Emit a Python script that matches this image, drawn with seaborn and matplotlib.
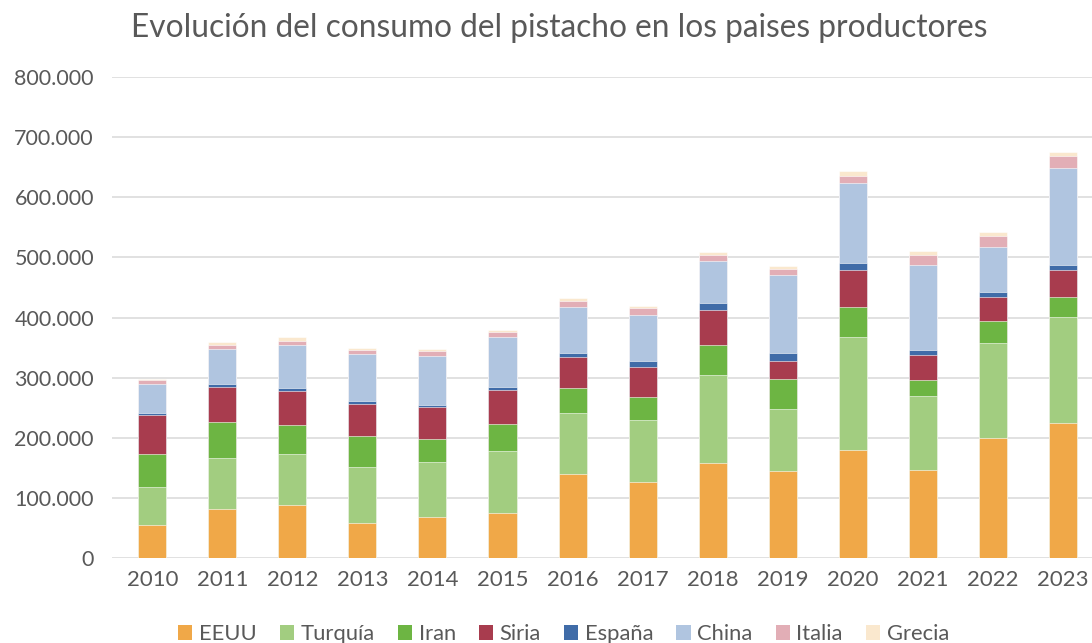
import numpy as np
import pandas as pd
import matplotlib
matplotlib.use("Agg")
import matplotlib.pyplot as plt
import seaborn as sns
from matplotlib.patches import Patch
from matplotlib.ticker import FuncFormatter

# consumo de pistacho por país (toneladas)
years = ["2010", "2011", "2012", "2013", "2014", "2015", "2016",
         "2017", "2018", "2019", "2020", "2021", "2022", "2023"]
eeuu = [54400, 81000, 87600, 57700, 67700, 74300, 139200,
        126900, 157500, 144500, 179100, 146400, 199100, 224500]
turquia = [63200, 85900, 85900, 93700, 92500, 104200, 102500,
           103100, 146900, 103300, 188500, 123600, 159000, 176300]
iran = [55400, 58700, 47200, 51000, 37200, 43900, 40500,
        37200, 49600, 50200, 49300, 26600, 36100, 33800]
siria = [64800, 59400, 57100, 53700, 53200, 56500, 52100,
         50000, 58500, 29100, 61600, 40500, 39900, 43900]
espana = [3900, 5000, 5500, 5500, 4400, 5000, 6200,
          10700, 12100, 14400, 12700, 8900, 8300, 9300]
china = [47200, 58000, 71000, 77200, 81000, 83100, 77000,
         76300, 69400, 129700, 132000, 141300, 75400, 160300]
italia = [7100, 6800, 7200, 7700, 8800, 9400, 10500,
          11600, 10500, 10000, 12700, 17200, 18300, 21000]
grecia = [2300, 3900, 5500, 2300, 2800, 2800, 4000,
          3800, 3900, 5000, 7200, 6600, 6700, 6700]

paises = ["EEUU", "Turquía", "Iran", "Siria", "España", "China", "Italia", "Grecia"]
series = [eeuu, turquia, iran, siria, espana, china, italia, grecia]
colores = ["#F0A848", "#A2CD80", "#6DB543", "#A83C4E",
           "#406CA8", "#B0C5E0", "#E2AEB6", "#FAE8CE"]

gris = "#595959"

sns.set_style("white")
plt.rcParams["font.family"] = ["Lato", "DejaVu Sans"]

fig = plt.figure(figsize=(10.92, 6.43), dpi=100)
ax = fig.add_axes([0.1026, 0.1322, 0.8974, 0.748])

# barras apiladas: se dibujan los acumulados de arriba hacia abajo
acumulado = np.cumsum(np.array(series), axis=0)
for i in range(len(paises) - 1, -1, -1):
    df = pd.DataFrame({"año": years, "valor": acumulado[i]})
    sns.barplot(data=df, x="año", y="valor", color=colores[i], width=0.4,
                saturation=1, edgecolor="white", linewidth=0.4, ax=ax, zorder=3)

ax.set_ylim(0, 800000)
ax.set_xlim(-0.575, 13.417)
ax.set_yticks(np.arange(0, 800001, 100000))
ax.yaxis.set_major_formatter(FuncFormatter(lambda v, p: f"{int(v):,}".replace(",", ".")))
ax.grid(axis="y", color="#D9D9D9", linewidth=1.1, zorder=0)
ax.grid(axis="x", visible=False)
for s in ax.spines.values():
    s.set_visible(False)
ax.set_xlabel("")
ax.set_ylabel("")
ax.tick_params(axis="y", length=0, pad=13, labelsize=15.5, labelcolor=gris)
ax.tick_params(axis="x", length=0, pad=9, labelsize=16, labelcolor=gris)

fig.text(0.512, 0.957, "Evolución del consumo del pistacho en los paises productores",
         ha="center", va="center", fontsize=22.8, color=gris)

handles = [Patch(facecolor=c, edgecolor="none", label=p) for p, c in zip(paises, colores)]
fig.legend(handles=handles, loc="center", bbox_to_anchor=(0.516, 0.014), ncol=8,
           frameon=False, fontsize=15.8, labelcolor=gris, handlelength=0.65,
           handleheight=0.65, handletextpad=0.3, columnspacing=1.05)

plt.savefig("out.png", dpi=100)
